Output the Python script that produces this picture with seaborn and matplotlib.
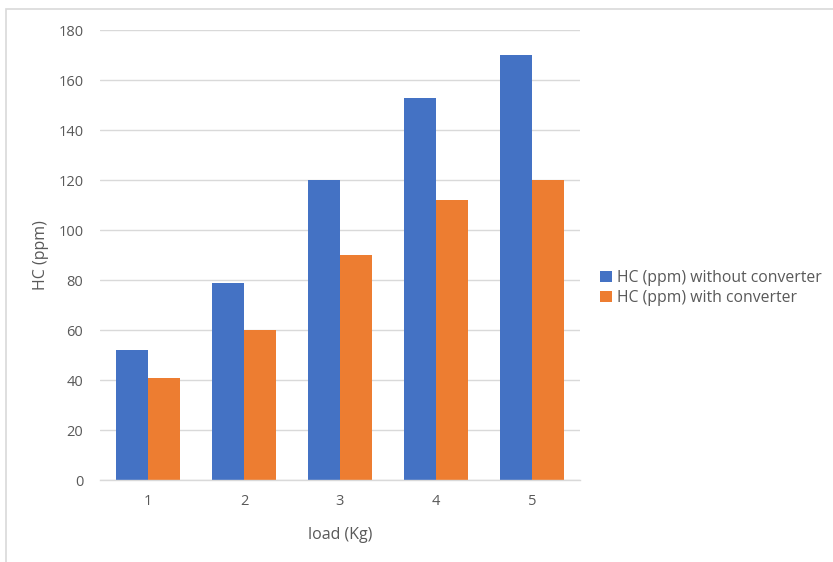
import matplotlib
matplotlib.use("Agg")
import matplotlib.pyplot as plt
from matplotlib.patches import Rectangle
import pandas as pd
import seaborn as sns

loads = ["1", "2", "3", "4", "5"]
hc_without = [52, 79, 120, 153, 170]
hc_with = [41, 60, 90, 112, 120]
series_names = ["HC (ppm) without converter", "HC (ppm) with converter"]
y_ticks = [0, 20, 40, 60, 80, 100, 120, 140, 160, 180]

df = pd.DataFrame({
    "load": loads * 2,
    "HC": hc_without + hc_with,
    "series": [series_names[0]] * len(loads) + [series_names[1]] * len(loads),
})

sns.set_theme(style="white")
plt.rcParams["font.family"] = ["Open Sans", "DejaVu Sans"]
text_color = "#595959"
grid_color = "#d9d9d9"

fig = plt.figure(figsize=(8.33, 5.62), dpi=100)
ax = fig.add_axes([100 / 833, 1 - 480 / 562, 480 / 833, 450 / 562])

sns.barplot(data=df, x="load", y="HC", hue="series", order=loads,
            hue_order=series_names, palette=["#4472C4", "#ED7D31"],
            width=2 / 3, gap=0, saturation=1, linewidth=0, ax=ax, legend=True)

ax.set_ylim(0, 180)
ax.set_xlim(-0.5, len(loads) - 0.5)
ax.set_yticks(y_ticks)
ax.yaxis.grid(True, color=grid_color, linewidth=1)
ax.set_axisbelow(True)
for s in ["top", "right", "left"]:
    ax.spines[s].set_visible(False)
ax.spines["bottom"].set_color(grid_color)
ax.spines["bottom"].set_linewidth(1)
ax.tick_params(axis="both", length=0, labelsize=10.5, labelcolor=text_color)
ax.tick_params(axis="y", pad=12)
ax.tick_params(axis="x", pad=10)

ax.set_xlabel("load (Kg)", fontsize=11.5, color=text_color)
ax.set_ylabel("HC (ppm)", fontsize=11.5, color=text_color)
ax.xaxis.set_label_coords(0.5, -47 / 450)
ax.yaxis.set_label_coords(-51 / 480, 0.5)

handles, labels = ax.get_legend_handles_labels()
ax.legend(handles, labels, loc="center left", bbox_to_anchor=(594 / 833, 1 - 288 / 562),
          bbox_transform=fig.transFigure, frameon=False, fontsize=11.3,
          labelcolor=text_color, handlelength=0.75, handleheight=0.75,
          handletextpad=0.3, labelspacing=0.25, borderaxespad=0)

# chart frame
fig.patches.append(Rectangle((6 / 833, -0.05), 1.1, 1 - 9 / 562 + 0.05,
                             transform=fig.transFigure, fill=False,
                             edgecolor="#d9d9d9", linewidth=1.2))

fig.savefig("out.png", dpi=100)
